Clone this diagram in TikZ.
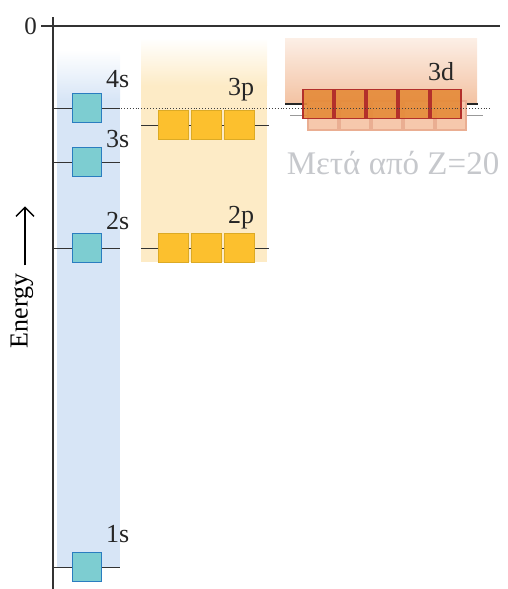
\documentclass[tikz,border=0pt]{standalone}
\usepackage{fontspec}
\setmainfont{Liberation Serif}
\usetikzlibrary{positioning, arrows.meta}

\definecolor{sband}{HTML}{D7E5F6}
\definecolor{pband}{HTML}{FDEBC6}
\definecolor{dbandtop}{HTML}{FCEFE6}
\definecolor{dbandbot}{HTML}{F3C2A2}
\definecolor{sfill}{HTML}{7DCDD1}
\definecolor{sline}{HTML}{2A7DC0}
\definecolor{pfill}{HTML}{FCC02E}
\definecolor{pline}{HTML}{DCAA25}
\definecolor{dfill}{HTML}{E58A38}
\definecolor{dline}{HTML}{B3302B}
\definecolor{dfaint}{HTML}{F6C8AC}
\definecolor{dfaintline}{HTML}{EAAE92}
\definecolor{afterZ}{HTML}{C6C8CC}

\tikzset{
  orb/.style={draw, line width=1pt, minimum size=29pt, inner sep=0pt},
  sorb/.style={orb, fill=sfill, draw=sline},
  porb/.style={orb, minimum width=30pt, fill=pfill, draw=pline},
  dorb/.style={orb, minimum width=30pt, fill=dfill, draw=dline, line width=1.2pt},
  dghost/.style={orb, minimum width=30pt, fill=dfaint, draw=dfaintline, line width=1.2pt},
  level/.style={draw=black!80, line width=0.9pt},
  lbl/.style={font=\fontsize{26}{28}\selectfont, inner sep=0pt, anchor=base west, text=black!85}
}

\begin{document}
\begin{tikzpicture}[x=1pt, y=-1pt]
  \useasboundingbox (0,0) rectangle (508,589);

  % coloured columns behind the levels
  \fill[sband] (57,100) rectangle (120,568);
  \shade[top color=white, bottom color=sband] (57,50) rectangle (120,100.5);
  \fill[pband] (141,85) rectangle (267,262);
  \shade[top color=white, bottom color=pband] (141,38) rectangle (267,85.5);
  \shade[top color=dbandtop, bottom color=dbandbot] (285,38) rectangle (477,104);

  % axes
  \coordinate (top) at (53,17);
  \coordinate (bottom) at (53,589);
  \coordinate (zl) at (41,26);
  \coordinate (zr) at (500,26);
  \draw[level, line width=1.1pt] (top) -- (bottom);
  \draw[level, line width=1.1pt] (zl) -- (zr);
  \node[font=\fontsize{25}{27}\selectfont, text=black!85, left=4pt of zl, inner sep=0pt] (zero) {0};

  \node[rotate=90, font=\fontsize{26}{28}\selectfont, inner sep=0pt] (energy) at (22,311) {Energy};
  \draw[line width=1.3pt, -{Straight Barb[length=9pt, width=18pt]}]
    ([xshift=3pt, yshift=8pt]energy.east) -- ++(0,-59);

  % s levels
  \foreach \n/\y in {1/567, 2/248, 3/162, 4/108} {
    \draw[level] (53,\y) -- (120,\y);
    \node[sorb] (s\n) at (87,\y) {};
  }
  \node[lbl] (l4s) at (106,87) {4s};
  \node[lbl] (l3s) at (106,147) {3s};
  \node[lbl] (l2s) at (106,229) {2s};
  \node[lbl] (l1s) at (106,542) {1s};

  % p levels
  \foreach \n/\y in {2/248, 3/125} {
    \draw[level] (141,\y) -- (269,\y);
    \node[porb] (p\n a) at (173,\y) {};
    \node[porb, right=2pt of p\n a] (p\n b) {};
    \node[porb, right=2pt of p\n b] (p\n c) {};
  }
  \node[lbl] (l3p) at (228,95) {3p};
  \node[lbl] (l2p) at (228,223) {2p};

  % 3d level, and where it sits once Z > 20
  \draw[draw=black!40, line width=1.6pt] (290,115.5) -- (483,115.5);
  \draw[draw=black!85, line width=2.2pt] (285,104) -- (478,104);
  \foreach \i in {0,...,4} {
    \node[dghost] (dd\i) at (323+32*\i,115.5) {};
  }
  \foreach \i in {0,...,4} {
    \node[dorb, fill opacity=0.9] (d\i) at (318+32*\i,104) {};
  }
  \node[lbl] (l3d) at (428,80) {3d};

  % 4s reference line
  \draw[black!75, line width=0.9pt, dotted] (s4.east) ++(19,0) -- (490,108);

  \node[font=\fontsize{33}{35}\selectfont, text=afterZ, inner sep=0pt] (after) at (393,163) {Μετά από Z=20};
\end{tikzpicture}
\end{document}
